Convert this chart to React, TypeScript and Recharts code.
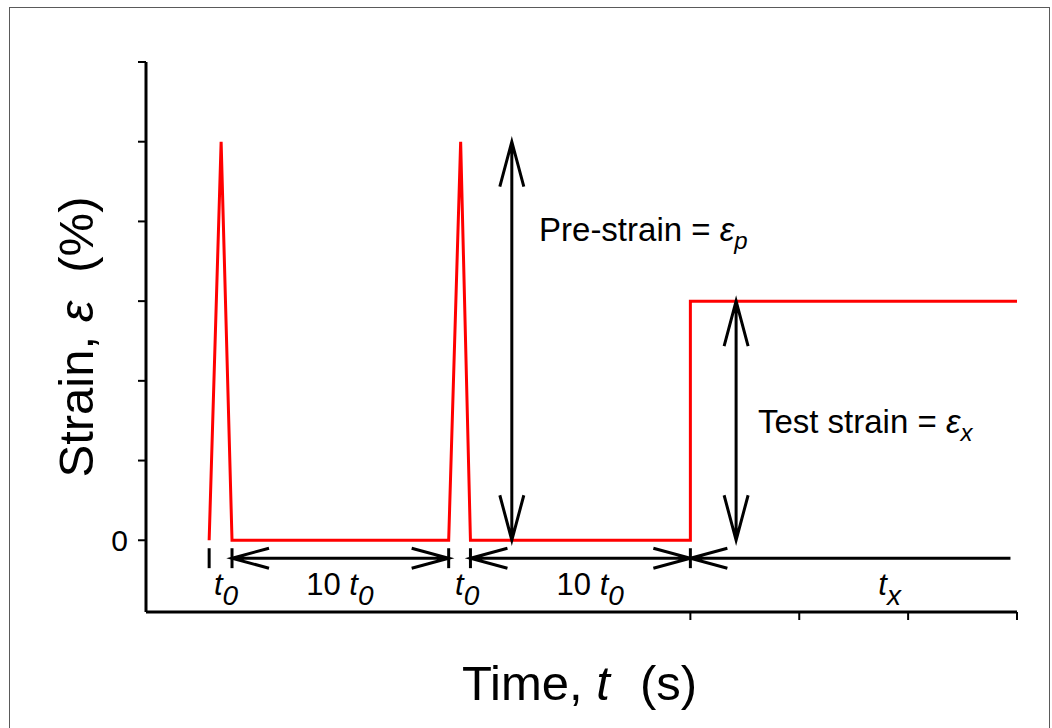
import { LineChart, Line, XAxis, YAxis, ReferenceLine, ReferenceDot } from "recharts";

// strain history: two pre-strain pulses, then the test step
const pulseTimes = [0.58, 0.69, 0.79, 2.78, 2.89, 2.98, 5.0, 5.0, 8.0];
const pulseStrains = [0, 5, 0, 0, 5, 0, 0, 3, 3];
const xTicks = [5, 6, 7, 8];
const yTicks = [0, 1, 2, 3, 4, 5, 6];
const preStrain = 5;
const testStrain = 3;
// boundaries of the t0 / 10 t0 intervals under the curve
const markTimes = [0.58, 0.79, 2.78, 2.98, 5.0];
const intervalArrows = [
  { from: 0.79, to: 2.78, both: true },
  { from: 2.98, to: 5.0, both: true },
  { from: 5.0, to: 7.94, both: false },
];
const intervalLabels = [
  { x: 0.735, pre: "", sub: "0" },
  { x: 1.78, pre: "10 ", sub: "0" },
  { x: 2.95, pre: "", sub: "0" },
  { x: 4.08, pre: "10 ", sub: "0" },
  { x: 6.83, pre: "", sub: "x" },
];

const data = pulseTimes.map((t, i) => ({ t, strain: pulseStrains[i] }));

const FONT = "'Liberation Sans', Arial, sans-serif";
const ARROW_Y = -0.225;

function arrowShape(startHead: boolean, endHead: boolean, len: number, half: number) {
  return (p: any) => {
    const { x1, y1, x2, y2 } = p;
    const dx = x2 - x1;
    const dy = y2 - y1;
    const d = Math.hypot(dx, dy) || 1;
    const ux = dx / d;
    const uy = dy / d;
    const px = -uy;
    const py = ux;
    const head = (tx: number, ty: number, ax: number, ay: number) =>
      `M${tx + ax * len + px * half},${ty + ay * len + py * half} L${tx},${ty} L${tx + ax * len - px * half},${ty + ay * len - py * half}`;
    let path = `M${x1},${y1} L${x2},${y2}`;
    if (startHead) path += " " + head(x1, y1, ux, uy);
    if (endHead) path += " " + head(x2, y2, -ux, -uy);
    return <path d={path} stroke="#000" strokeWidth={3} fill="none" />;
  };
}

const intervalText = (pre: string, sub: string) => (p: any) => (
  <text x={p.cx} y={p.cy} textAnchor="middle" fontFamily={FONT} fontSize={31} fill="#000">
    {pre ? <tspan>{pre}</tspan> : null}
    <tspan fontStyle="italic">t</tspan>
    <tspan fontStyle="italic" fontSize={28} dy={10}>{sub}</tspan>
  </text>
);

const strainText = (label: string, sub: string) => (p: any) => (
  <text x={p.cx} y={p.cy} fontFamily={FONT} fontSize={33} fill="#000">
    <tspan>{label}</tspan>
    <tspan fontStyle="italic">ε</tspan>
    <tspan fontStyle="italic" fontSize={24} dy={8}>{sub}</tspan>
  </text>
);

const yTick = (p: any) => {
  const v = p.payload?.value;
  if (v !== 0) return <g />;
  return (
    <text x={p.x} y={p.y} dy={11} textAnchor="end" fontFamily={FONT} fontSize={30} fill="#000">
      0
    </text>
  );
};

const xLabel = (p: any) => {
  const vb = p.viewBox;
  return (
    <text x={vb.x + vb.width / 2 - 2} y={vb.y + 88} textAnchor="middle" fontFamily={FONT} fontSize={49} fill="#000">
      <tspan>Time, </tspan>
      <tspan fontStyle="italic">t</tspan>
      <tspan dx={30}>(s)</tspan>
    </text>
  );
};

const yLabel = (p: any) => {
  const vb = p.viewBox;
  const cx = 93;
  const cy = vb.y + vb.height / 2;
  return (
    <text x={cx} y={cy} transform={`rotate(-90, ${cx}, ${cy})`} textAnchor="middle" fontFamily={FONT} fontSize={49} fill="#000">
      <tspan>Strain, </tspan>
      <tspan fontStyle="italic">ε</tspan>
      <tspan dx={28}>(%)</tspan>
    </text>
  );
};

export default function App() {
  return (
    <div style={{ position: "absolute", left: 0, top: 0, width: 1052, height: 728, background: "#fff", overflow: "hidden" }}>
      <div style={{ position: "absolute", left: 9, top: 7, width: 1041, height: 760, border: "1.5px solid #5a5a5a", boxSizing: "border-box" }} />
      <div style={{ position: "absolute", left: 0, top: 0 }}>
        <LineChart width={1052} height={728} data={data} margin={{ top: 62, right: 35, bottom: 0, left: 0 }}>
          <XAxis
            dataKey="t"
            type="number"
            domain={[0, 8]}
            ticks={xTicks}
            interval={0}
            tickFormatter={() => ""}
            tickSize={8}
            height={116}
            axisLine={{ stroke: "#000", strokeWidth: 3 }}
            tickLine={{ stroke: "#000", strokeWidth: 2 }}
            label={{ content: xLabel }}
          />
          <YAxis
            type="number"
            domain={[-0.9, 6]}
            ticks={yTicks}
            interval={0}
            tickSize={8}
            tickMargin={10}
            width={146}
            axisLine={{ stroke: "#000", strokeWidth: 3 }}
            tickLine={{ stroke: "#000", strokeWidth: 2 }}
            tick={yTick}
            label={{ content: yLabel }}
          />
          <Line
            dataKey="strain"
            type="linear"
            stroke="#ff0000"
            strokeWidth={3}
            dot={false}
            isAnimationActive={false}
          />
          <ReferenceLine
            segment={[{ x: 3.36, y: 0 }, { x: 3.36, y: preStrain }]}
            shape={arrowShape(true, true, 45, 12)}
          />
          <ReferenceLine
            segment={[{ x: 5.42, y: 0 }, { x: 5.42, y: testStrain }]}
            shape={arrowShape(true, true, 45, 12)}
          />
          {intervalArrows.map((a, i) => (
            <ReferenceLine
              key={`ia${i}`}
              segment={[{ x: a.to, y: ARROW_Y }, { x: a.from, y: ARROW_Y }]}
              shape={arrowShape(a.both, true, 37, 10)}
            />
          ))}
          {markTimes.map((t, i) => (
            <ReferenceLine
              key={`mk${i}`}
              segment={[{ x: t, y: -0.1 }, { x: t, y: -0.35 }]}
              stroke="#000"
              strokeWidth={3}
            />
          ))}
          {intervalLabels.map((l, i) => (
            <ReferenceDot key={`il${i}`} x={l.x} y={-0.69} r={1} shape={intervalText(l.pre, l.sub)} />
          ))}
          <ReferenceDot x={3.61} y={3.75} r={1} shape={strainText("Pre-strain = ", "p")} />
          <ReferenceDot x={5.62} y={1.34} r={1} shape={strainText("Test strain = ", "x")} />
        </LineChart>
      </div>
    </div>
  );
}
